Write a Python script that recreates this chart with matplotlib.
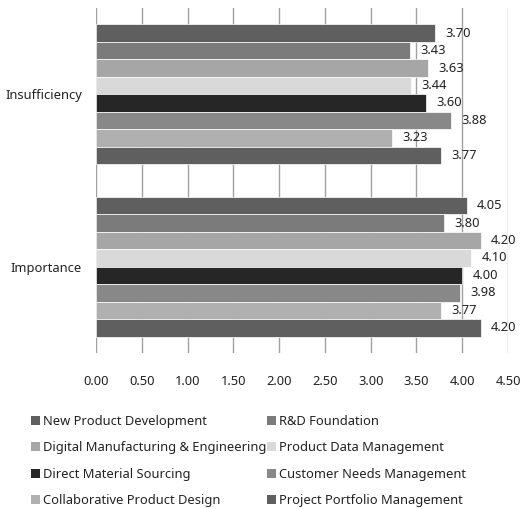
import numpy as np
import matplotlib.pyplot as plt
from matplotlib.patches import Patch

plt.rcParams['font.family'] = ['Noto Sans', 'DejaVu Sans']

# Survey scores per PLM area
categories = ['Importance', 'Insufficiency']
series = ['New Product Development', 'R&D Foundation',
          'Digital Manufacturing & Engineering', 'Product Data Management',
          'Direct Material Sourcing', 'Customer Needs Management',
          'Collaborative Product Design', 'Project Portfolio Management']
importance = [4.05, 3.80, 4.20, 4.10, 4.00, 3.98, 3.77, 4.20]
insufficiency = [3.70, 3.43, 3.63, 3.44, 3.60, 3.88, 3.23, 3.77]
colors = ['#5f5f5f', '#7b7b7b', '#a6a6a6', '#d9d9d9',
          '#262626', '#888888', '#b0b0b0', '#5f5f5f']
xticks = np.arange(0, 4.51, 0.5)

fig = plt.figure(figsize=(5.22, 5.09), dpi=100)
ax = fig.add_axes([0.1839, 0.3065, 0.7893, 0.6778])

n = len(series)
h = 0.1014
for i in range(n):
    vals = [importance[i], insufficiency[i]]
    ypos = np.arange(len(categories)) + (3.5 - i) * h
    ax.barh(ypos, vals, height=h, color=colors[i],
            edgecolor='white', linewidth=0.5, zorder=2)
    for y, v in zip(ypos, vals):
        ax.annotate(f'{v:.2f}', (v, y), xytext=(7.5, 0),
                    textcoords='offset points', va='center', ha='left',
                    fontsize=9.3, color='#222222', zorder=3)

ax.set_xlim(0, 4.5)
ax.set_ylim(-0.5, 1.5)
ax.set_xticks(xticks)
ax.set_xticklabels([f'{t:.2f}' for t in xticks])
ax.set_yticks(range(len(categories)))
ax.set_yticklabels(categories)
ax.tick_params(axis='x', length=0, pad=16, labelsize=9.3, labelcolor='#222222')
ax.tick_params(axis='y', length=0, pad=10, labelsize=9.3, labelcolor='#222222')
ax.grid(axis='x', color='#a0a0a0', linewidth=1.0, zorder=0)
ax.set_axisbelow(True)
for s in ax.spines.values():
    s.set_visible(False)

# legend laid out row by row
order = [0, 2, 4, 6, 1, 3, 5, 7]
handles = [Patch(facecolor=colors[i], edgecolor='none') for i in order]
labels = [series[i] for i in order]
fig.legend(handles, labels, ncol=2, loc='upper left',
           bbox_to_anchor=(0.037, 0.207), frameon=False, fontsize=9.3,
           handlelength=0.7, handleheight=0.7, handletextpad=0.25,
           columnspacing=0.0, labelspacing=1.02, labelcolor='#222222')

fig.savefig('out.png', dpi=100)
